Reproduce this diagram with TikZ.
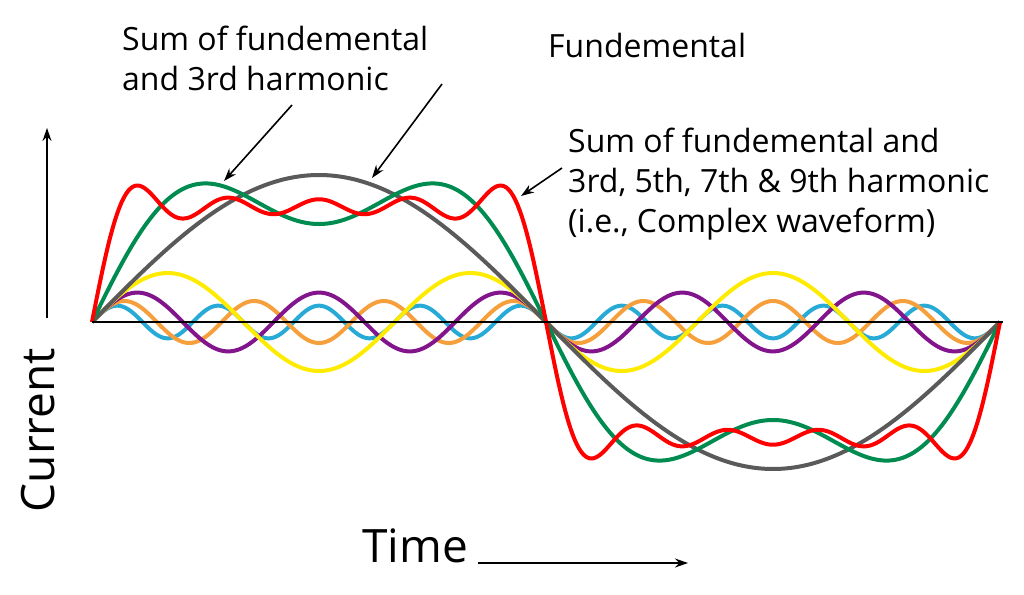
\documentclass[tikz,border=0pt]{standalone}
\usepackage{fontspec}
\usetikzlibrary{arrows.meta}
\setmainfont{Open Sans}
\begin{document}
\begin{tikzpicture}[x=1pt,y=-1pt,
  wave/.style={line width=4pt,line join=round},
  lbl/.style={font=\fontsize{32}{40}\selectfont,align=left,inner sep=0pt},
  ann/.style={line width=1.6pt,-{Stealth[length=13pt,width=9pt]}}]
\useasboundingbox (0,0) rectangle (1024,594);
\def\X#1{92+#1*2.52222}
\definecolor{cgreen}{RGB}{0,140,80}
\definecolor{cgray}{RGB}{90,90,90}
\definecolor{cyel}{RGB}{255,235,0}
\definecolor{cpur}{RGB}{130,20,140}
\definecolor{corg}{RGB}{245,160,60}
\definecolor{cblue}{RGB}{40,170,215}
\begin{scope}[domain=0:360,samples=400,variable=\t]
\draw[wave,cblue] plot ({\X{\t}},{322-147/9*sin(9*\t)});
\draw[wave,corg] plot ({\X{\t}},{322-147/7*sin(7*\t)});
\draw[wave,cpur] plot ({\X{\t}},{322-147/5*sin(5*\t)});
\draw[wave,cyel] plot ({\X{\t}},{322-147/3*sin(3*\t)});
\draw[wave,cgray] plot ({\X{\t}},{322-147*sin(\t)});
\draw[wave,cgreen] plot ({\X{\t}},{322-147*(sin(\t)+sin(3*\t)/3)});
\draw[wave,red] plot ({\X{\t}},{322-147*(sin(\t)+sin(3*\t)/3+sin(5*\t)/5+sin(7*\t)/7+sin(9*\t)/9)});
\end{scope}
\coordinate (o) at (92,322); \coordinate (e) at (1003,322);
\draw[line width=2.5pt] (o) -- (e);
\coordinate (ya) at (47,318); \coordinate (yb) at (47,128);
\draw[line width=1.6pt,-{Stealth[length=13pt,width=9pt]}] (ya) -- (yb);
\coordinate (ta) at (478,563); \coordinate (tb) at (688,563);
\draw[line width=1.6pt,-{Stealth[length=13pt,width=9pt]}] (ta) -- (tb);
\node[rotate=90,font=\fontsize{46}{50}\selectfont,anchor=south] (cur) at (58,430) {Current};
\node[font=\fontsize{46}{50}\selectfont,anchor=base west,inner sep=0pt] (time) at (362,562) {Time};
\node[lbl,anchor=base west] (l1) at (122,90) {Sum of fundemental\\and 3rd harmonic};
\node[lbl,anchor=base west] (l2) at (548,58) {Fundemental};
\node[lbl,anchor=base west] (l3) at (568,232) {Sum of fundemental and\\3rd, 5th, 7th \& 9th harmonic\\(i.e., Complex waveform)};
\coordinate (a1s) at (292,105); \coordinate (a1e) at (224,181);
\coordinate (a2s) at (442,84); \coordinate (a2e) at (372,178);
\coordinate (a3s) at (562,168); \coordinate (a3e) at (521,196);
\draw[ann] (a1s) -- (a1e);
\draw[ann] (a2s) -- (a2e);
\draw[ann] (a3s) -- (a3e);
\end{tikzpicture}
\end{document}
